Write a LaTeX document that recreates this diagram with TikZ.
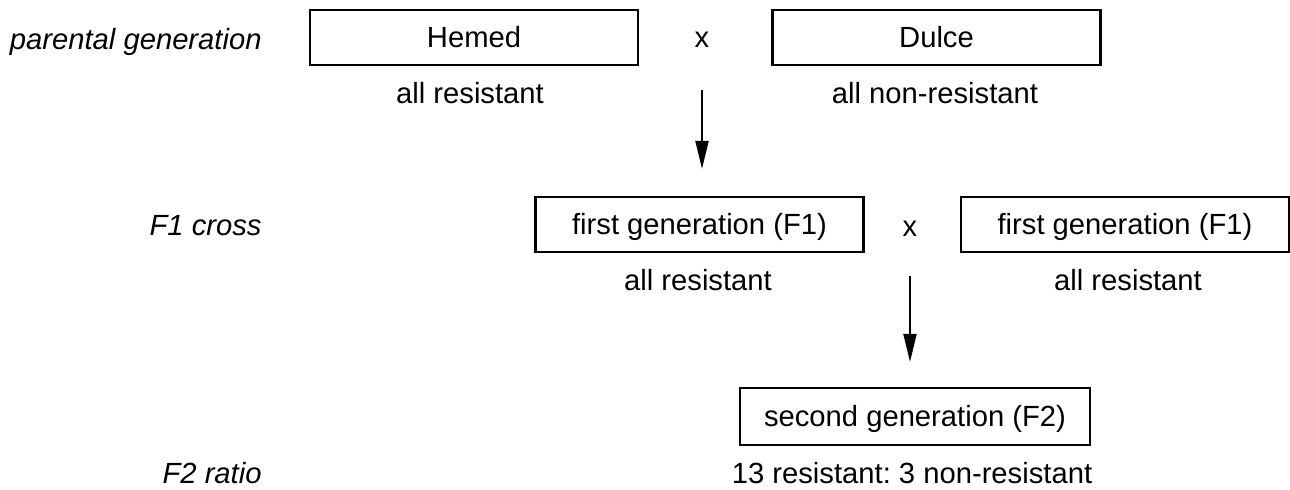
\documentclass[tikz,border=0pt]{standalone}
\usepackage{fontspec}
\setmainfont{Liberation Sans}
\frenchspacing
\usetikzlibrary{arrows.meta}
\tikzset{kasten/.style = {
shape=rectangle, draw, line width=1.1pt, minimum width=164pt, minimum height=27.5pt, inner sep=0pt, text height=10.45pt, text depth=0pt
}}
\tikzset{breitkasten/.style = {kasten, minimum width=175pt, minimum height=28.5pt}}
\tikzset{etikett/.style = {anchor=base, inner sep=0pt}}
\tikzset{stufe/.style = {etikett, anchor=base east, font=\fontsize{14.6}{17.5}\selectfont\itshape}}
\tikzset{pfeil/.style = {-{Triangle[length=14pt,width=6.5pt]}, line width=1pt}}

\begin{document}
\begin{tikzpicture}[x=0.5pt,y=-0.5pt,font=\fontsize{14.6}{17.5}\selectfont]
\useasboundingbox (0,0) rectangle (1290,489);

\node[stufe] (pg) at (262,49){parental generation};
\node[stufe] (fc) at (262,235){F1 cross};
\node[stufe] (fr) at (262,483){F2 ratio};

\node[kasten] (hemed) at (474,37.5){Hemed};
\node[etikett] (kreuzA) at (702,47){x};
\node[kasten] (dulce) at (936.5,37.5){Dulce};
\node[etikett] (hemedR) at (470,103){all resistant};
\node[etikett] (dulceR) at (935,103){all non-resistant};

\node[kasten] (f1a) at (699.5,224.5){first generation (F1)};
\node[etikett] (kreuzB) at (910,236){x};
\node[kasten] (f1b) at (1125,224.5){first generation (F1)};
\node[etikett] (f1aR) at (698,290){all resistant};
\node[etikett] (f1bR) at (1128,290){all resistant};

\node[breitkasten] (f2) at (915,416.5){second generation (F2)};
\node[etikett] (f2R) at (912,483){13 resistant: 3 non-resistant};

\draw [pfeil,shorten <=21.5pt,shorten >=13.5pt] (kreuzA.south) -- (kreuzA.south |- f1a.north);
\draw [pfeil,shorten <=20pt,shorten >=12.5pt] (kreuzB.south) -- (kreuzB.south |- f2.north);

\end{tikzpicture}
\end{document}
